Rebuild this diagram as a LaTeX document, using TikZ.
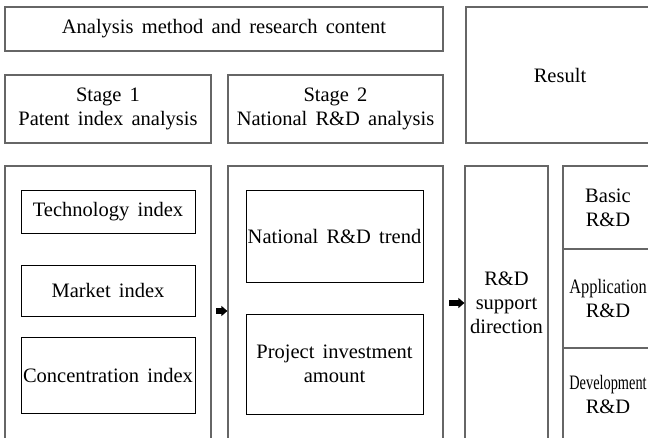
\documentclass[tikz,border=0pt]{standalone}
\usepackage{fontspec}
\usepackage{graphicx}
\setmainfont{Liberation Serif}[WordSpace={1.6,1,1}]
\usetikzlibrary{arrows.meta}

\begin{document}
\begin{tikzpicture}[x=1pt,y=-1pt,
  frame/.style={draw=black!60, line width=1.2pt, inner sep=0pt, align=center,
    font=\fontsize{20.5}{24}\selectfont},
  box/.style={draw=black, line width=0.8pt, inner sep=0pt, align=center,
    font=\fontsize{20.5}{24}\selectfont},
  flow/.style={-{Triangle[length=6pt,width=10pt]}, line width=6pt}]
\useasboundingbox (0,0) rectangle (648,437);
\clip (0,0) rectangle (648,437);

% header row
\node[frame, minimum width=438pt, minimum height=44pt] (head) at (224,29)
  {Analysis method and research content};
\node[frame, minimum width=206pt, minimum height=68pt] (st1) at (108,109)
  {Stage 1\\Patent index analysis};
\node[frame, minimum width=215pt, minimum height=68pt] (st2) at (335.5,109)
  {Stage 2\\National R\&D analysis};
\node[frame, minimum width=188pt, minimum height=136pt] (res) at (560,75)
  {Result};

% stage columns (open at the bottom)
\node[frame, minimum width=206pt, minimum height=274pt] (col1) at (108,303) {};
\node[frame, minimum width=215pt, minimum height=274pt] (col2) at (335.5,303) {};
\node[frame, minimum width=83pt, minimum height=274pt] (dir) at (506.5,303)
  {R\&D\\support\\direction};

% result categories
\node[frame, minimum width=90pt, minimum height=83pt] (basic) at (608,207.5)
  {Basic\\R\&D};
\node[frame, minimum width=90pt, minimum height=99pt] (appl) at (608,298.5)
  {\scalebox{0.8}[1]{Application}\\R\&D};
\node[frame, minimum width=90pt, minimum height=92pt] (dev) at (608,394)
  {\scalebox{0.7}[1]{Development}\\R\&D};

% stage 1 contents
\node[box, minimum width=174pt, minimum height=43pt] (tech) at (108,211.5)
  {Technology index};
\node[box, minimum width=174pt, minimum height=51pt] (mkt) at (108,290.5)
  {Market index};
\node[box, minimum width=174pt, minimum height=76pt] (conc) at (108,375)
  {Concentration index};

% stage 2 contents
\node[box, minimum width=177pt, minimum height=92pt] (trend) at (334.5,236)
  {National R\&D trend};
\node[box, minimum width=177pt, minimum height=100pt] (inv) at (334.5,364)
  {Project investment\\amount};

% flow arrows between columns
\coordinate (a1) at (216,311);
\coordinate (a2) at (449,303);
\draw[flow] (a1) -- (a1 -| col2.west);
\draw[flow] (a2) -- (a2 -| dir.west);
\end{tikzpicture}
\end{document}
